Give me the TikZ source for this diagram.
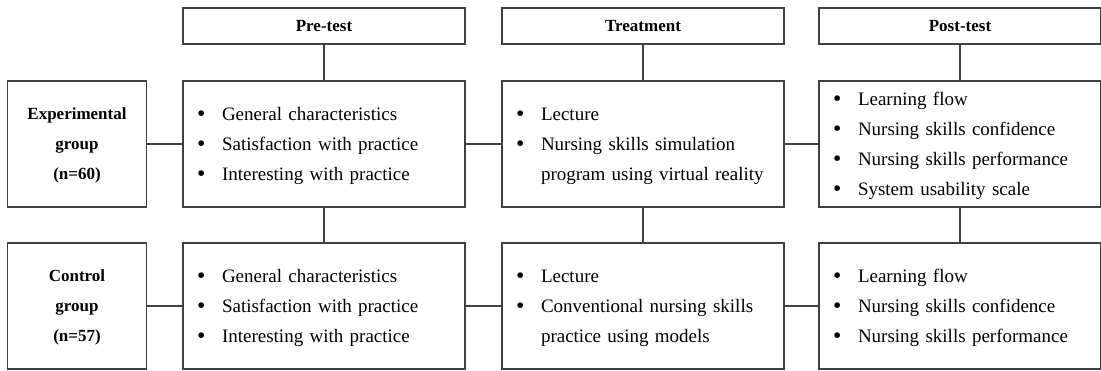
\documentclass[tikz,border=0pt]{standalone}
\usepackage{fontspec}
\setmainfont{Liberation Serif}
% wider word spaces in the list boxes
\newfontfamily\listfam{Liberation Serif}[WordSpace=1.5]
\usetikzlibrary{calc}

\newcommand{\boxfont}{\fontsize{17}{30}\selectfont}
\newcommand{\listfont}{\listfam\fontsize{19}{30}\selectfont}
\newcommand{\bul}{\makebox[25pt][l]{\raisebox{-0.07em}{\scalebox{1.25}{\textbullet}}}}

\tikzset{
  hdbox/.style={draw=black!75, line width=1.1pt, minimum width=282pt,
    minimum height=36pt, inner sep=0pt, font=\boxfont\bfseries},
  grpbox/.style={draw=black!75, line width=1.1pt, minimum width=139pt,
    minimum height=126pt, inner sep=0pt, text depth=0pt, align=center,
    font=\boxfont\bfseries},
  listbox/.style={draw=black!75, line width=1.1pt, minimum width=282pt,
    minimum height=126pt, inner xsep=14pt, inner ysep=0pt, text height=17pt,
    text width=254pt, align=left, font=\listfont},
  link/.style={draw=black!75, line width=1.1pt}
}

\begin{document}
\begin{tikzpicture}[x=1pt, y=1pt]
      \useasboundingbox (0,0) rectangle (1101,-370);

      % column headings
      \node [hdbox] (pre) at (324,-26) {Pre-test};
      \node [hdbox] (treat) at (643,-26) {Treatment};
      \node [hdbox] (post) at (960,-26) {Post-test};

      % groups
      \node [grpbox] (expg) at (77,-144) {Experimental\\group\\(n=60)};
      \node [grpbox] (ctrlg) at (77,-306) {Control\\group\\(n=57)};

      % experimental row
      \node [listbox] (preE) at (324,-144) {\bul General characteristics\\
        \bul Satisfaction with practice\\ \bul Interesting with practice};
      \node [listbox] (treatE) at (643,-144) {\bul Lecture\\
        \bul Nursing skills simulation\\ \hspace*{25pt}program using virtual reality};
      \node [listbox] (postE) at (960,-144) {\bul Learning flow\\
        \bul Nursing skills confidence\\ \bul Nursing skills performance\\
        \bul System usability scale};

      % control row
      \node [listbox] (preC) at (324,-306) {\bul General characteristics\\
        \bul Satisfaction with practice\\ \bul Interesting with practice};
      \node [listbox] (treatC) at (643,-306) {\bul Lecture\\
        \bul Conventional nursing skills\\ \hspace*{25pt}practice using models};
      \node [listbox] (postC) at (960,-306) {\bul Learning flow\\
        \bul Nursing skills confidence\\ \bul Nursing skills performance};

      % vertical links
      \draw [link] (pre)--(preE)--(preC);
      \draw [link] (treat)--(treatE)--(treatC);
      \draw [link] (post)--(postE)--(postC);

      % horizontal links
      \draw [link] (expg)--(preE)--(treatE)--(postE);
      \draw [link] (ctrlg)--(preC)--(treatC)--(postC);
\end{tikzpicture}
\end{document}
